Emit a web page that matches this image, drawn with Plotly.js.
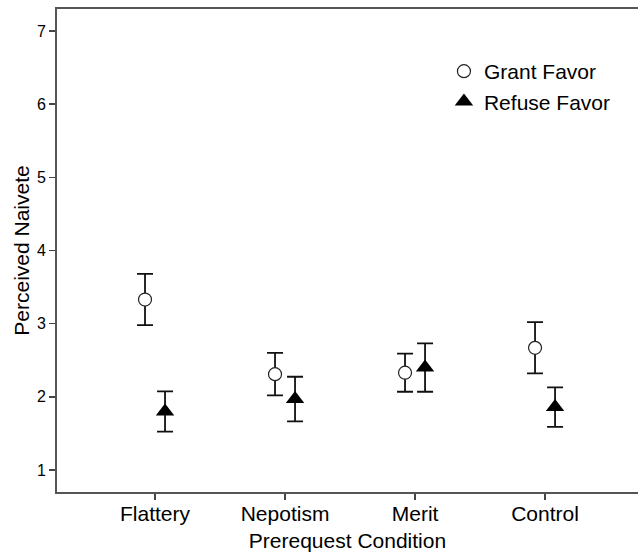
<!DOCTYPE html>
<html>
<head>
<meta charset="utf-8">
<script src="https://cdn.plot.ly/plotly-3.0.1.min.js"></script>
<style>html,body{margin:0;padding:0;background:#fff;}#chart{width:638px;height:552px;}</style>
</head>
<body>
<div id="chart"></div>
<script>
const categories = ["Flattery", "Nepotism", "Merit", "Control"];
const grantMean = [3.33, 2.31, 2.33, 2.67];
const grantErr = [0.35, 0.29, 0.26, 0.35];
const refuseMean = [1.80, 1.97, 2.40, 1.86];
const refuseErr = [0.275, 0.305, 0.33, 0.27];
const yTicks = [1, 2, 3, 4, 5, 6, 7];

const FONT = "Arial, 'Liberation Sans', sans-serif";
const offset = 0.077;

const traces = [
  {
    name: "Grant Favor",
    type: "scatter",
    mode: "markers",
    x: categories.map((c, i) => i - offset),
    y: grantMean,
    error_y: {type: "data", array: grantErr, visible: true, color: "#111", thickness: 1.8, width: 8},
    marker: {symbol: "circle", size: 13, color: "#fff", line: {color: "#222", width: 1.2}}
  },
  {
    name: "Refuse Favor",
    type: "scatter",
    mode: "markers",
    x: categories.map((c, i) => i + offset),
    y: refuseMean,
    error_y: {type: "data", array: refuseErr, visible: true, color: "#111", thickness: 1.8, width: 8},
    marker: {symbol: "triangle-up", size: 16, color: "#000", line: {width: 0}}
  }
];

const layout = {
  width: 638, height: 552,
  margin: {l: 57, r: 0, t: 9, b: 60},
  paper_bgcolor: "#fff", plot_bgcolor: "#fff",
  font: {family: FONT, color: "#000"},
  showlegend: true,
  legend: {x: 0.666, y: 0.913, xanchor: "left", yanchor: "top", bgcolor: "rgba(0,0,0,0)",
           font: {family: FONT, size: 21, color: "#000"}},
  xaxis: {
    range: [-0.754, 3.715],
    tickmode: "array",
    tickvals: categories.map((c, i) => i),
    ticktext: categories,
    ticks: "outside", ticklen: 6, tickwidth: 1.5, tickcolor: "#444",
    ticklabelstandoff: -4,
    showline: true, linecolor: "#555", linewidth: 2, mirror: true,
    showgrid: false, zeroline: false,
    tickfont: {family: FONT, size: 21, color: "#000"},
    title: {text: "Prerequest Condition", font: {family: FONT, size: 21, color: "#000"}, standoff: 10}
  },
  yaxis: {
    range: [0.70, 7.30],
    tickmode: "array", tickvals: yTicks, ticktext: yTicks.map(String),
    ticks: "outside", ticklen: 6, tickwidth: 1.5, tickcolor: "#444",
    showline: true, linecolor: "#555", linewidth: 2,
    showgrid: false, zeroline: false,
    tickfont: {family: FONT, size: 16, color: "#000"},
    title: {text: "Perceived Naivete", font: {family: FONT, size: 21, color: "#000"}, standoff: 2}
  }
};

Plotly.newPlot("chart", traces, layout, {displayModeBar: false, staticPlot: true});
</script>
</body>
</html>
